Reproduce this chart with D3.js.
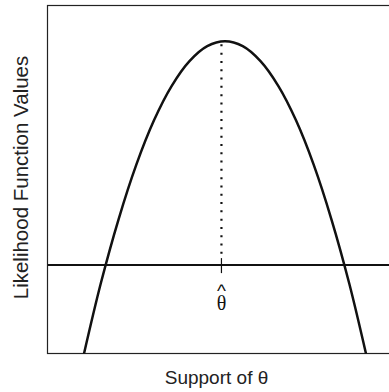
<!DOCTYPE html>
<html><head><meta charset="utf-8">
<script src="https://cdn.jsdelivr.net/npm/d3@7"></script>
<style>body{margin:0;background:#fff;} svg{display:block;}</style>
</head><body>
<svg id="c" width="389" height="392"></svg>
<script>
// Support of theta (data units) and likelihood values
const thetaVals = [10, 15, 20, 25, 30, 35, 40, 45, 50, 55, 60, 65, 70, 75, 80, 85, 90];
const likeVals  = [-1.3, 20.1, 38.5, 54.2, 67.0, 76.9, 84.0, 88.3, 89.7, 88.3, 84.0, 76.9, 67.0, 54.2, 38.5, 20.1, -1.3];
const thetaHat = 49.0;      // position of the MLE marker
const cutLevel = 25.4;      // horizontal reference level
const xLabel = "Support of \u03b8";
const yLabel = "Likelihood Function Values";
const hatMark = "^";
const hatSym = "\u03b8";

const svg = d3.select("#c");
const pLeft = 47.5, pRight = 402.5, pTop = 5.5, pBottom = 353.5;
const x = d3.scaleLinear().domain([0, 100]).range([pLeft, pRight]);
const y = d3.scaleLinear().domain([0, 100]).range([pBottom, pTop]);

svg.append("defs").append("clipPath").attr("id", "clip")
  .append("rect").attr("x", pLeft).attr("y", pTop).attr("width", pRight - pLeft).attr("height", pBottom - pTop);

// box
svg.append("rect").attr("x", pLeft).attr("y", pTop).attr("width", pRight - pLeft).attr("height", pBottom - pTop)
  .attr("fill", "none").attr("stroke", "#222").attr("stroke-width", 1.2);

const g = svg.append("g").attr("clip-path", "url(#clip)");

const data = thetaVals.map((t, i) => [t, likeVals[i]]);
g.append("path").datum(data)
  .attr("d", d3.line().x(d => x(d[0])).y(d => y(d[1])).curve(d3.curveCatmullRom.alpha(0.5)))
  .attr("fill", "none").attr("stroke", "#111").attr("stroke-width", 2.5);

// horizontal level
g.append("line").attr("x1", x(0)).attr("x2", x(100)).attr("y1", y(cutLevel)).attr("y2", y(cutLevel))
  .attr("stroke", "#111").attr("stroke-width", 2);

// dotted line from peak
const peak = d3.max(likeVals);
g.append("line").attr("x1", x(thetaHat)).attr("x2", x(thetaHat))
  .attr("y1", y(peak) + 3).attr("y2", y(cutLevel) - 6)
  .attr("stroke", "#111").attr("stroke-width", 2.2)
  .attr("stroke-dasharray", "2,6.3");

// tick at theta hat
svg.append("line").attr("x1", x(thetaHat)).attr("x2", x(thetaHat))
  .attr("y1", y(cutLevel) - 7).attr("y2", y(cutLevel) + 8)
  .attr("stroke", "#111").attr("stroke-width", 1.2);

// theta hat label (one text element, two tspans)
const hat = svg.append("text").attr("text-anchor", "middle").attr("fill", "#111");
hat.append("tspan").attr("x", x(thetaHat)).attr("y", 296.5)
  .attr("font-family", "Liberation Sans, Arial, sans-serif").attr("font-size", 19).text(hatMark);
hat.append("tspan").attr("x", x(thetaHat)).attr("y", 309.5)
  .attr("font-family", "Liberation Serif, serif").attr("font-size", 20).text(hatSym);

// axis labels
svg.append("text").attr("x", 216.5).attr("y", 384)
  .attr("text-anchor", "middle").attr("font-family", "Liberation Sans, Arial, sans-serif")
  .attr("font-size", 19).attr("fill", "#222").text(xLabel);
svg.append("text").attr("transform", `translate(28,177.5) rotate(-90)`)
  .attr("text-anchor", "middle").attr("font-family", "Liberation Sans, Arial, sans-serif")
  .attr("font-size", 20.5).attr("fill", "#222").text(yLabel);
</script>
</body></html>
